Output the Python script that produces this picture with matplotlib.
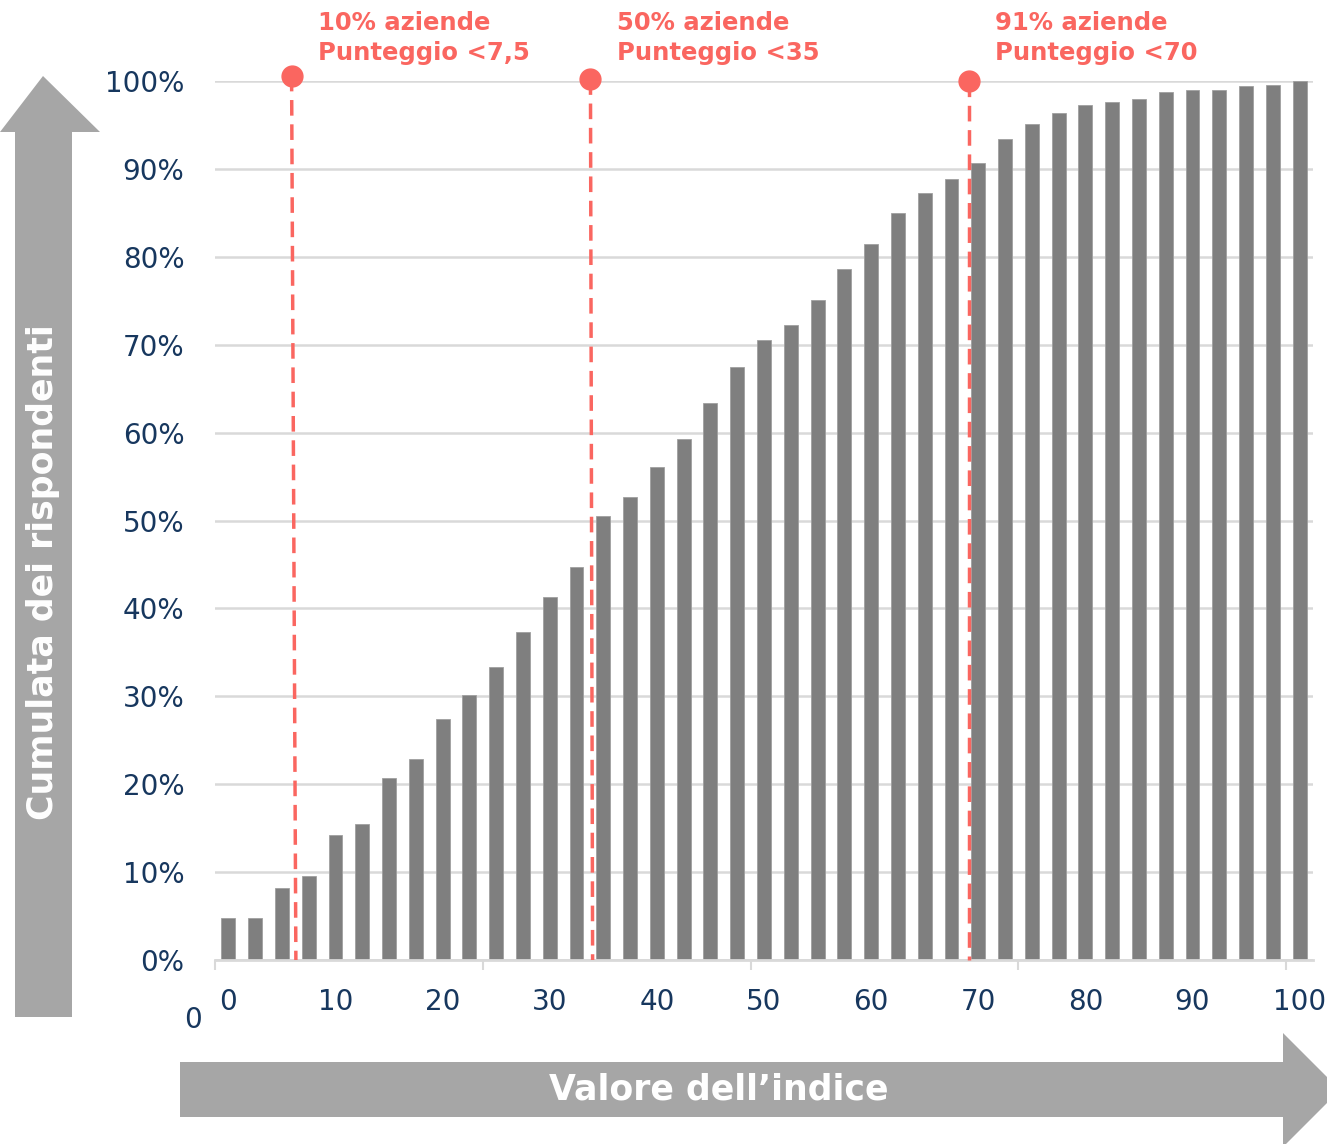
import numpy as np
import matplotlib
matplotlib.use('Agg')
import matplotlib.pyplot as plt
from matplotlib.patches import Polygon

# cumulative share of respondents per index value (step 2.5)
scores = [i * 2.5 for i in range(41)]
cumulative = [4.8, 4.8, 8.2, 9.5, 14.2, 15.5, 20.7, 22.9, 27.4, 30.1,
              33.3, 37.3, 41.3, 44.7, 50.5, 52.7, 56.1, 59.3, 63.4, 67.5,
              70.5, 72.2, 75.1, 78.6, 81.5, 85.0, 87.3, 88.9, 90.7, 93.4,
              95.1, 96.4, 97.3, 97.6, 97.9, 98.7, 99.0, 99.0, 99.4, 99.5, 100.0]

# threshold markers: (x at top, x at bottom, dot height, label)
marker_x_top = [5.9, 33.8, 69.1]
marker_x_bottom = [6.3, 34.0, 69.1]
marker_y = [100.6, 100.2, 100.0]
marker_labels = ["10% aziende\nPunteggio <7,5",
                 "50% aziende\nPunteggio <35",
                 "91% aziende\nPunteggio <70"]

xticks = list(range(0, 101, 10))
yticks = list(range(0, 101, 10))

bar_color = '#7f7f7f'
red = '#fa6660'
navy = '#17375e'
arrow_gray = '#a6a6a6'
font = 'DejaVu Sans'

W, H = 1327, 1144
fig = plt.figure(figsize=(W / 100, H / 100), dpi=100)

# background overlay for the arrows
bg = fig.add_axes([0, 0, 1, 1])
bg.set_xlim(0, W)
bg.set_ylim(H, 0)
bg.axis('off')
bg.add_patch(Polygon([(15, 1017), (72, 1017), (72, 132), (100, 132), (43, 76),
                      (0, 132), (15, 132)], closed=True, color=arrow_gray, lw=0))
bg.add_patch(Polygon([(180, 1062), (1283, 1062), (1283, 1033), (1340, 1090),
                      (1283, 1147), (1283, 1117), (180, 1117)], closed=True,
                     color=arrow_gray, lw=0))
bg.text(43, 572, "Cumulata dei rispondenti", rotation=90, color='white',
        fontsize=25, fontweight='bold', ha='center', va='center', family=font)
bg.text(719, 1089, "Valore dell\u2019indice", color='white', fontsize=25,
        fontweight='bold', ha='center', va='center', family=font)
bg.text(193, 1020, "0", color=navy, fontsize=20, ha='center', va='center', family=font)

ax = fig.add_axes([215 / W, 1 - 960 / H, (1313 - 215) / W, (960 - 81) / H])
ax.set_facecolor('none')
ax.bar(scores, cumulative, width=1.3, color=bar_color, edgecolor='#a0a0a0',
       linewidth=0.6, zorder=2)

ax.set_xlim(-1.25, 101.25)
ax.set_ylim(0, 100)
ax.set_yticks(yticks)
ax.set_yticklabels([f"{t}%" for t in yticks])
ax.set_xticks(xticks)
ax.set_xticks([-1.25 + 25 * k for k in range(5)], minor=True)
ax.tick_params(axis='both', which='major', length=0, labelsize=20,
               labelcolor=navy)
ax.tick_params(axis='x', which='major', pad=20)
ax.tick_params(axis='x', which='minor', length=7, width=1.5, color='#d9d9d9',
               direction='out')
ax.tick_params(axis='y', pad=22)
for lbl in ax.get_xticklabels() + ax.get_yticklabels():
    lbl.set_family(font)

ax.grid(axis='y', color='#d9d9d9', linewidth=1.8, zorder=0)
for s in ['top', 'right', 'left']:
    ax.spines[s].set_visible(False)
ax.spines['bottom'].set_color('#d9d9d9')
ax.spines['bottom'].set_linewidth(2)

for xt, xb, my, lab in zip(marker_x_top, marker_x_bottom, marker_y, marker_labels):
    ax.plot([xt, xb], [my, 0], color=red, lw=2.5, dashes=(4.5, 2.5),
            zorder=3, clip_on=False)
    ax.plot([xt], [my], 'o', color=red, markersize=15, zorder=4, clip_on=False)
    ax.text(xt + 2.5, 101.8, lab, color=red, fontsize=17.5, fontweight='bold',
            ha='left', va='bottom', linespacing=1.35, family=font)

fig.savefig('out.png', dpi=100)
